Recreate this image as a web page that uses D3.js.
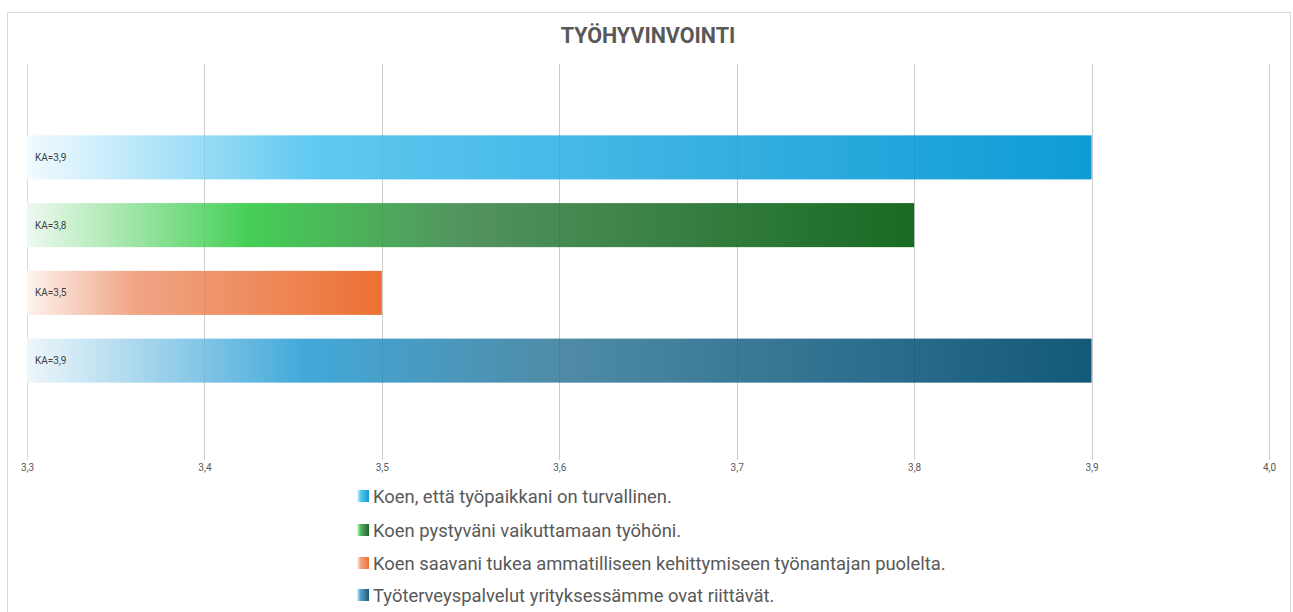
<!DOCTYPE html>
<html>
<head>
<meta charset="utf-8">
<script src="https://cdn.jsdelivr.net/npm/d3@7"></script>
<style>
  body { margin: 0; background: #fff; }
  svg { display: block; }
</style>
</head>
<body>
<svg id="chart"></svg>
<script>
// chart data
var title = 'TYÖHYVINVOINTI';
var series = [
  'Koen, että työpaikkani on turvallinen.',
  'Koen pystyväni vaikuttamaan työhöni.',
  'Koen saavani tukea ammatilliseen kehittymiseen työnantajan puolelta.',
  'Työterveyspalvelut yrityksessämme ovat riittävät.'
];
var values = [3.9, 3.8, 3.5, 3.9];
var barLabels = ['KA=3,9', 'KA=3,8', 'KA=3,5', 'KA=3,9'];
var xTicks = [3.3, 3.4, 3.5, 3.6, 3.7, 3.8, 3.9, 4.0];

// gradient stops per bar (offset, colour)
var gradients = [
  [[0, '#f2fafe'], [0.27, '#60c9f1'], [0.6, '#3bb2e2'], [1, '#0e9cd5']],
  [[0, '#eef9ef'], [0.25, '#45cf56'], [0.5, '#52925f'], [1, '#196a22']],
  [[0, '#fdf3ee'], [0.3, '#f0a586'], [1, '#ec7133']],
  [[0, '#eef6fb'], [0.26, '#43a9da'], [0.5, '#4f8ba6'], [1, '#13597a']]
];

var W = 1293, H = 612;
var margin = {left: 27, right: 24, top: 64, bottom: 150};

var svg = d3.select('#chart').attr('width', W).attr('height', H);

var defs = svg.append('defs');
gradients.forEach((g, i) => {
  var lg = defs.append('linearGradient')
    .attr('id', 'grad' + i)
    .attr('x1', '0%').attr('x2', '100%').attr('y1', '0%').attr('y2', '0%');
  g.forEach(s => lg.append('stop').attr('offset', s[0]).attr('stop-color', s[1]));
});

// outer frame
svg.append('rect')
  .attr('x', 7.5).attr('y', 12.5)
  .attr('width', 1283).attr('height', 620)
  .attr('fill', '#fff')
  .attr('stroke', '#d9d9d9')
  .attr('stroke-width', 1);

svg.append('text')
  .attr('x', 648).attr('y', 43)
  .attr('text-anchor', 'middle')
  .attr('font-family', 'Roboto, Arial, sans-serif')
  .attr('font-weight', 'bold')
  .attr('font-size', 21.5)
  .attr('fill', '#595959')
  .text(title);

var xScale = d3.scaleLinear()
  .domain([3.3, 4.0])
  .range([27, 1269]);

var yScale = d3.scaleBand()
  .domain(series)
  .range([123.5, 394.5])
  .paddingInner(0.35)
  .paddingOuter(0.175);

var plotBottom = 460;

// gridlines
var grid = svg.append('g').attr('class', 'grid');
grid.selectAll('line')
  .data(xTicks)
  .join('line')
  .attr('x1', d => Math.round(xScale(d)) + 0.5)
  .attr('x2', d => Math.round(xScale(d)) + 0.5)
  .attr('y1', margin.top)
  .attr('y2', plotBottom)
  .attr('stroke', '#d9d9d9')
  .attr('stroke-width', 1);

// bars
svg.append('g').selectAll('rect')
  .data(values)
  .join('rect')
  .attr('x', xScale(3.3))
  .attr('y', (d, i) => yScale(series[i]))
  .attr('width', d => xScale(d) - xScale(3.3))
  .attr('height', yScale.bandwidth())
  .attr('fill', (d, i) => `url(#grad${i})`);

// faint gridlines showing through the bars
svg.append('g').selectAll('line')
  .data(xTicks.slice(1))
  .join('line')
  .attr('x1', d => Math.round(xScale(d)) + 0.5)
  .attr('x2', d => Math.round(xScale(d)) + 0.5)
  .attr('y1', margin.top)
  .attr('y2', plotBottom)
  .attr('stroke', '#000')
  .attr('stroke-opacity', 0.06);

// bar labels
svg.append('g').selectAll('text')
  .data(barLabels)
  .join('text')
  .attr('x', 35)
  .attr('y', (d, i) => yScale(series[i]) + yScale.bandwidth() / 2)
  .attr('dominant-baseline', 'central')
  .attr('font-family', 'Roboto, Arial, sans-serif')
  .attr('font-size', 10)
  .attr('fill', '#404040')
  .text(d => d);

// x axis labels
var xAxis = d3.axisBottom(xScale)
  .tickValues(xTicks)
  .tickSize(0)
  .tickFormat(d => d3.format('.1f')(d).replace('.', ','));
var xAxisGroup = svg.append('g')
  .attr('transform', `translate(0, ${plotBottom})`)
  .call(xAxis);
xAxisGroup.select('.domain').remove();
xAxisGroup.selectAll('text')
  .attr('dy', 0)
  .attr('y', 11)
  .attr('font-family', 'Roboto, Arial, sans-serif')
  .attr('font-size', 10)
  .attr('fill', '#595959');

// legend
var legend = svg.append('g').attr('transform', 'translate(357, 0)');
var legendY = [496, 530, 563, 595];
var items = legend.selectAll('g')
  .data(series)
  .join('g')
  .attr('transform', (d, i) => `translate(0, ${legendY[i]})`);
items.append('rect')
  .attr('x', 0).attr('y', -6)
  .attr('width', 12).attr('height', 12)
  .attr('fill', (d, i) => `url(#grad${i})`);
items.append('text')
  .attr('x', 16)
  .attr('y', 0)
  .attr('dominant-baseline', 'central')
  .attr('font-family', 'Roboto, sans-serif')
  .attr('font-size', 18.4)
  .attr('fill', '#595959')
  .text(d => d);
</script>
</body>
</html>
